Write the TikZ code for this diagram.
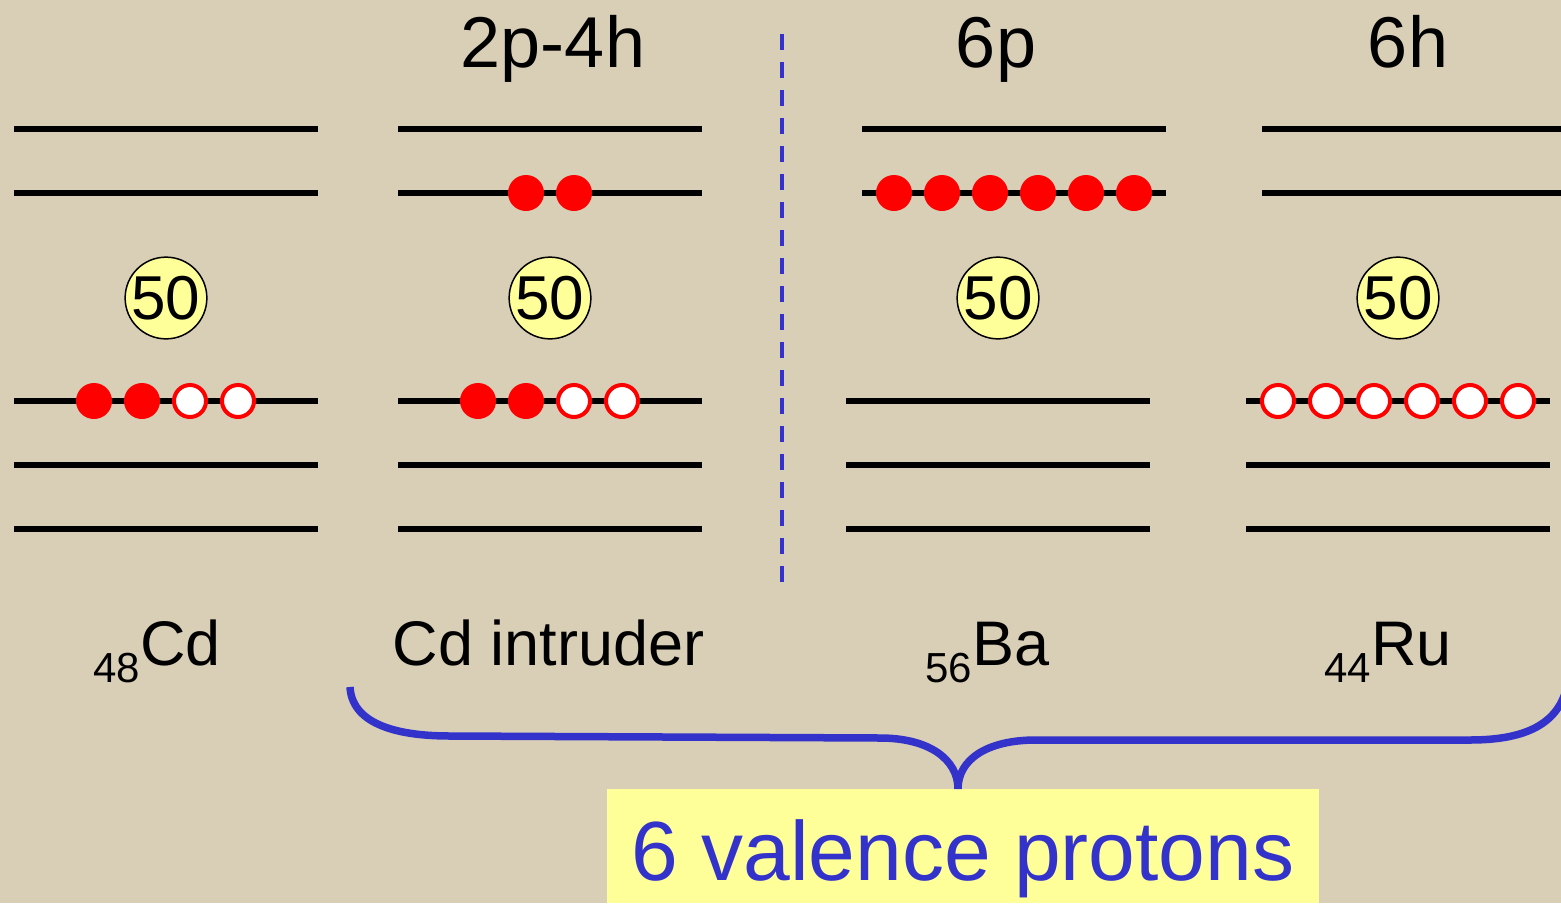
\documentclass[tikz,border=0pt]{standalone}
\usepackage{fontspec}
\setmainfont{Liberation Sans}
\definecolor{bg}{RGB}{217,206,182}
\definecolor{pale}{RGB}{255,255,153}
\definecolor{bluel}{RGB}{51,51,204}
\definecolor{redd}{RGB}{255,0,0}
\begin{document}
\begin{tikzpicture}[x=1pt,y=-1pt,
  level/.style={line width=6pt},
  pfull/.style={circle,fill=redd,minimum size=36pt,inner sep=0pt},
  phole/.style={circle,fill=white,draw=redd,line width=4pt,minimum size=32pt,inner sep=0pt},
  magic/.style={circle,fill=pale,draw=black,line width=1.5pt,minimum size=80pt,inner sep=0pt,font=\fontsize{62}{62}\selectfont},
  head/.style={anchor=base,font=\fontsize{72}{72}\selectfont},
  lab/.style={anchor=base west,font=\fontsize{63}{63}\selectfont},
  bracestyle/.style={draw=bluel,line width=7.5pt},
]
\useasboundingbox (0,0) rectangle (1561,903);
\fill[bg] (0,0) rectangle (1561,903);

% column 1
\foreach \y in {129,193,401,465,529} \draw[level] (14,\y) -- (318,\y);
% column 2
\foreach \y in {129,193,401,465,529} \draw[level] (398,\y) -- (702,\y);
% column 3
\foreach \y in {129,193} \draw[level] (862,\y) -- (1166,\y);
\foreach \y in {401,465,529} \draw[level] (846,\y) -- (1150,\y);
% column 4
\foreach \y in {129,193} \draw[level] (1262,\y) -- (1570,\y);
\foreach \y in {401,465,529} \draw[level] (1246,\y) -- (1550,\y);

% dashed divider
\draw[bluel,line width=4pt,dash pattern=on 16pt off 12pt] (782,34) -- (782,582);

% magic 50
\node[magic] (m1) at (166,298) {50};
\node[magic] (m2) at (550,298) {50};
\node[magic] (m3) at (998,298) {50};
\node[magic] (m4) at (1398,298) {50};

% particles / holes
\node[pfull] (a1) at (94,401) {};
\node[pfull] (a2) at (142,401) {};
\node[phole] (a3) at (190,401) {};
\node[phole] (a4) at (238,401) {};

\node[pfull] (b1) at (526,193) {};
\node[pfull] (b2) at (574,193) {};
\node[pfull] (b3) at (478,401) {};
\node[pfull] (b4) at (526,401) {};
\node[phole] (b5) at (574,401) {};
\node[phole] (b6) at (622,401) {};

\foreach \i/\x in {1/894,2/942,3/990,4/1038,5/1086,6/1134}
  \node[pfull] (c\i) at (\x,193) {};
\foreach \i/\x in {1/1278,2/1326,3/1374,4/1422,5/1470,6/1518}
  \node[phole] (d\i) at (\x,401) {};

% headings
\node[head] (h2) at (553,67) {2p-4h};
\node[head] (h3) at (996,67) {6p};
\node[head] (h4) at (1408,67) {6h};

% labels
\node[lab] (l1) at (90,665) {\raisebox{-17pt}{\fontsize{42}{42}\selectfont 48}Cd};
\node[lab] (l2) at (389,665) {Cd intruder};
\node[lab] (l3) at (922,665) {\raisebox{-17pt}{\fontsize{42}{42}\selectfont 56}Ba};
\node[lab] (l4) at (1321,665) {\raisebox{-17pt}{\fontsize{42}{42}\selectfont 44}Ru};

% box
\fill[pale] (607,789) rectangle (1319,903);
\node[anchor=base,text=bluel,font=\fontsize{84}{84}\selectfont] (val) at (963,880) {6 valence protons};
\coordinate (tip) at (958,789);

% brace
\draw[bracestyle] (350,687) .. controls (352,722) and (392,736) .. (450,736)
  -- (880,738) .. controls (930,738) and (958,760) .. (tip);
\draw[bracestyle] (tip) .. controls (958,760) and (986,740) .. (1036,740)
  -- (1470,740) .. controls (1522,740) and (1556,726) .. (1566,690);
\end{tikzpicture}
\end{document}
